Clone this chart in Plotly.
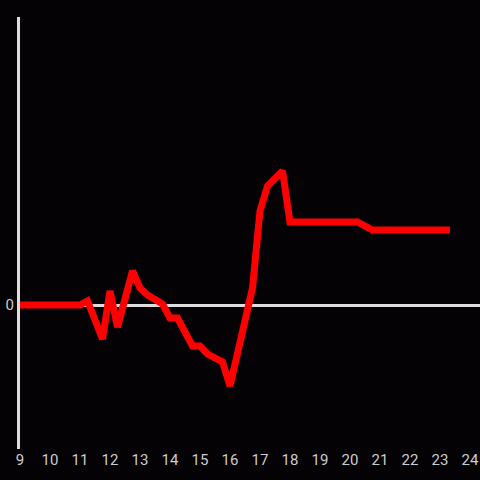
import plotly.graph_objects as go

hours = [9, 11, 11.25, 11.75, 12, 12.25, 12.75, 13, 13.25, 13.75, 14, 14.25, 14.75, 15,
         15.25, 15.75, 16, 16.75, 17, 17.25, 17.75, 18, 20.25, 20.75, 23.33]
values = [0, 0, 0.4, -3.4, 1.4, -2.2, 3.4, 1.7, 1.0, 0.1, -1.3, -1.3, -4.1, -4.1,
          -4.9, -5.7, -8.1, 1.7, 9.4, 11.9, 13.4, 8.3, 8.3, 7.5, 7.5]
xticks = list(range(9, 25))

fig = go.Figure(go.Scatter(x=hours, y=values, mode="lines",
                           line=dict(color="#ff0000", width=7), hoverinfo="skip"))
fig.update_layout(
    width=480, height=480,
    margin=dict(l=20, r=0, t=17, b=31),
    paper_bgcolor="#040205", plot_bgcolor="#040205",
    showlegend=False,
    font=dict(family="Roboto", size=15, color="#cccccc"),
    xaxis=dict(range=[9, 9 + 460 / 30], tickvals=xticks, showgrid=False,
               zeroline=False, showline=False, ticks="", tickfont=dict(size=15)),
    yaxis=dict(range=[-14.4, 28.8], tickvals=[0], showgrid=False,
               zeroline=True, zerolinecolor="#dddddd", zerolinewidth=3,
               showline=True, linecolor="#dddddd", linewidth=3, ticks="",
               tickfont=dict(size=15)),
)
fig.write_html("out.html", config={"displayModeBar": False},
               post_script="document.body.style.margin='0';document.body.style.background='#040205';")
